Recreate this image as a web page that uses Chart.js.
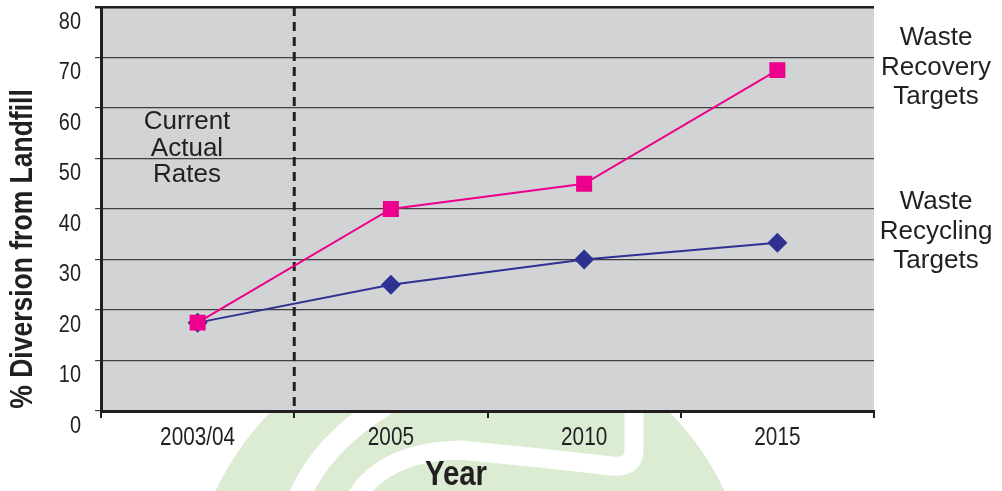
<!DOCTYPE html>
<html><head><meta charset="utf-8">
<script src="https://cdn.jsdelivr.net/npm/chart.js@4/dist/chart.umd.min.js"></script>
<style>html,body{margin:0;padding:0;background:#fff;overflow:hidden;}</style>
</head><body>
<canvas id="c" width="1002" height="491" style="display:block;width:1002px;height:491px"></canvas>
<script>
const categories = ['2003/04', '2005', '2010', '2015'];
const recoveryTargets = [17.5, 40, 45, 67.5];
const recyclingTargets = [17.5, 25, 30, 33.3];
const yMin = 0, yMax = 80, yStep = 10;
const yAxisTitle = '% Diversion from Landfill';
const xAxisTitle = 'Year';
const currentRatesNote = ['Current', 'Actual', 'Rates'];
const recoveryLabel = ['Waste', 'Recovery', 'Targets'];
const recyclingLabel = ['Waste', 'Recycling', 'Targets'];

const SANS = "'Liberation Sans', Arial, Helvetica, sans-serif";
const SQUEEZE = 0.83; // condensed look for axis text
const INK = '#231f20';
const PINK = '#ec008c';
const BLUE = '#2e3192';

function condensedText(ctx, text, x, y, sx) {
  ctx.save(); ctx.translate(x, y); ctx.scale(sx, 1); ctx.fillText(text, 0, 0); ctx.restore();
}

const backdrop = {
  id: 'backdrop',
  beforeDraw(chart) {
    const ctx = chart.ctx, a = chart.chartArea;
    ctx.save();
    // faint green logo watermark
    ctx.fillStyle = '#dcecd3';
    ctx.beginPath(); ctx.arc(470, 610, 281, 0, Math.PI * 2); ctx.fill();
    ctx.strokeStyle = '#ffffff';
    ctx.lineCap = 'butt'; ctx.lineJoin = 'round';
    ctx.lineWidth = 22;
    ctx.beginPath(); ctx.moveTo(296, 505); ctx.quadraticCurveTo(318, 445, 385, 405); ctx.stroke();
    ctx.lineWidth = 19;
    ctx.beginPath(); ctx.moveTo(352, 505); ctx.quadraticCurveTo(378, 452, 460, 450);
    ctx.lineTo(540, 458); ctx.lineTo(612, 466); ctx.quadraticCurveTo(634, 468, 634, 450); ctx.lineTo(634, 400); ctx.stroke();
    // plot background
    ctx.fillStyle = '#d1d3d4';
    ctx.fillRect(a.left, a.top, a.right - a.left, a.bottom - a.top);
    ctx.restore();
    // render the library's axis tick labels in a condensed shape
    const orig = CanvasRenderingContext2D.prototype.fillText;
    ctx.fillText = function (t, x, y) {
      this.save(); this.translate(x, y); this.scale(SQUEEZE, 1); orig.call(this, t, 0, 0); this.restore();
    };
  },
  beforeDatasetsDraw(chart) {
    const ctx = chart.ctx, a = chart.chartArea, x = chart.scales.x;
    delete ctx.fillText;
    const xs = (x.getPixelForValue(0) + x.getPixelForValue(1)) / 2;
    ctx.save();
    ctx.strokeStyle = INK; ctx.lineWidth = 3;
    ctx.setLineDash([9, 6]);
    ctx.beginPath(); ctx.moveTo(xs, a.top); ctx.lineTo(xs, a.bottom); ctx.stroke();
    ctx.restore();
  },
  afterDraw(chart) {
    const ctx = chart.ctx;
    ctx.save();
    ctx.fillStyle = INK;
    ctx.textAlign = 'center'; ctx.textBaseline = 'middle';
    ctx.font = "26px " + SANS;
    currentRatesNote.forEach((t, i) => ctx.fillText(t, 187, 122 + i * 26.5));
    recoveryLabel.forEach((t, i) => ctx.fillText(t, 936, 38 + i * 29.5));
    recyclingLabel.forEach((t, i) => ctx.fillText(t, 936, 202 + i * 29.5));
    ctx.font = "bold 35px " + SANS;
    condensedText(ctx, xAxisTitle, 456, 475, 0.84);
    ctx.translate(23, 249); ctx.rotate(-Math.PI / 2);
    ctx.font = "bold 31px " + SANS;
    condensedText(ctx, yAxisTitle, 0, 0, 0.855);
    ctx.restore();
  }
};

new Chart(document.getElementById('c'), {
  type: 'line',
  data: {
    labels: categories,
    datasets: [
      { label: 'Waste Recovery Targets', data: recoveryTargets, borderColor: PINK, backgroundColor: PINK,
        borderWidth: 2, pointStyle: 'rect', pointRadius: 11.3, pointHoverRadius: 11.3, pointBorderWidth: 0, tension: 0 },
      { label: 'Waste Recycling Targets', data: recyclingTargets, borderColor: BLUE, backgroundColor: BLUE,
        borderWidth: 2, pointStyle: 'rectRot', pointRadius: 10, pointHoverRadius: 10, pointBorderWidth: 0, tension: 0 }
    ]
  },
  options: {
    responsive: false,
    animation: false,
    events: [],
    layout: { autoPadding: false, padding: { left: 0, right: 128, top: 7, bottom: 0 } },
    plugins: { legend: { display: false }, tooltip: { enabled: false }, title: { display: false } },
    scales: {
      x: {
        offset: true,
        grid: { offset: true, drawOnChartArea: false, drawTicks: true, tickLength: 7, color: INK, lineWidth: 2 },
        border: { display: true, color: INK, width: 3 },
        ticks: { color: INK, font: { family: SANS, size: 25 }, padding: 5, maxRotation: 0 },
        afterFit(s) { s.height = 80; s.paddingLeft = 0; s.paddingRight = 0; }
      },
      y: {
        min: yMin, max: yMax,
        grid: {
          color: ctx => ctx.tick && ctx.tick.value === yMax ? INK : '#3f3f3f',
          lineWidth: ctx => ctx.tick && ctx.tick.value === yMax ? 2.5 : 1.2,
          tickLength: 6, drawTicks: true
        },
        border: { display: true, color: INK, width: 3 },
        ticks: { stepSize: yStep, color: INK, font: { family: SANS, size: 24 }, padding: 14, labelOffset: 15 },
        afterFit(s) { s.width = 101; s.paddingTop = 0; s.paddingBottom = 0; }
      }
    }
  },
  plugins: [backdrop]
});
</script>
</body></html>
